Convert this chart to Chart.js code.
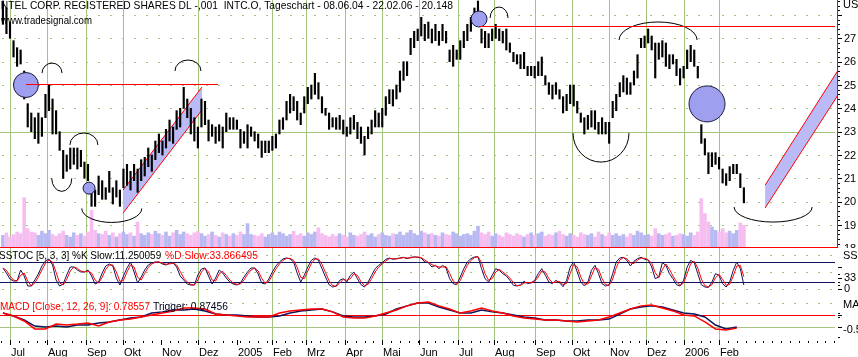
<!DOCTYPE html>
<html><head><meta charset="utf-8">
<script src="https://cdn.jsdelivr.net/npm/chart.js@4/dist/chart.umd.min.js"></script>
<style>
html,body{margin:0;padding:0;background:#fff;overflow:hidden}
#wrap{position:relative;width:858px;height:357px;background:#fff}
canvas{position:absolute;left:0}
</style></head><body>
<div id="wrap">
<canvas id="cMain" width="858" height="248" style="top:0;width:858px;height:248px"></canvas>
<canvas id="cStoch" width="858" height="46" style="top:248px;width:858px;height:46px"></canvas>
<canvas id="cMacd" width="858" height="63" style="top:294px;width:858px;height:63px"></canvas>
</div>
<script>
// ---------- categories (trading-day index, 0 = 1 Jul 2004) ----------
const monthLabels = ['Jul','Aug','Sep','Okt','Nov','Dez','2005','Feb','Mrz','Apr','Mai','Jun','Jul','Aug','Sep','Okt','Nov','Dez','2006','Feb'];
const monthStart  = [0,21,43,64,85,106,128,148,167,189,210,231,253,273,296,317,338,359,380,400];
const monthGridShown = [1,1,1,1,0,1,0,1,1,1,1,1,1,1,1,1,1,1,1,1];
const priceTickLabels = [19,20,21,22,23,24,25,26,27];

// ---------- series (one sample every 2 trading days, first at day -4) ----------
const priceHigh = [
28.6,28.3,27.7,26.9,26.6,26.5,25.6,24.2,23.8,23.6,
23.8,23.6,24.6,25.0,24.4,23.9,23.0,22.2,22.0,22.3,
22.3,22.3,22.2,21.7,21.6,20.6,20.5,21.1,20.9,20.6,
21.3,20.6,20.9,20.5,21.4,21.6,21.3,21.6,21.4,21.8,
21.9,22.3,22.0,22.6,22.9,22.6,23.1,23.5,23.2,23.9,
24.0,24.9,24.4,24.0,23.6,23.2,24.4,24.3,23.5,23.3,
23.2,23.3,23.2,23.8,23.6,23.6,23.5,23.1,23.0,23.3,
23.2,23.0,22.9,22.6,22.6,22.6,22.8,22.9,23.5,23.6,
24.3,24.6,24.5,24.3,23.8,24.5,24.9,25.0,25.5,25.1,
24.5,24.0,23.8,23.6,23.6,23.7,23.5,23.2,23.6,23.7,
23.4,23.2,22.8,23.2,23.5,23.9,23.8,24.0,24.5,24.8,
24.8,25.0,25.6,26.0,26.0,27.0,27.3,27.4,27.9,27.6,
27.7,27.4,27.6,27.3,27.6,27.3,26.5,26.7,26.5,26.9,
27.3,27.6,27.9,28.3,28.6,27.4,27.3,27.2,27.4,27.6,
27.4,27.3,27.4,26.8,26.4,26.3,26.3,26.4,25.8,25.8,
25.8,26.0,26.2,25.4,25.1,25.0,25.1,24.8,24.5,24.6,
25.0,25.0,24.3,23.8,23.6,23.7,23.9,23.9,23.4,23.6,
23.4,23.4,24.3,24.6,25.1,25.4,25.3,25.1,25.6,26.3,
27.0,27.1,27.4,27.1,26.8,26.8,26.9,26.8,26.3,26.3,
26.1,25.7,25.8,26.5,26.7,26.5,25.8,23.3,22.7,22.1,
22.1,22.1,21.9,21.4,21.2,21.5,21.6,21.6,21.2,20.6];
const priceLow = [
27.6,27.2,27.0,26.2,25.8,25.9,24.4,23.2,23.0,22.7,
22.5,22.8,23.6,23.9,22.9,22.9,22.2,21.0,21.3,21.4,
21.6,21.4,21.5,21.0,20.9,19.8,19.8,20.3,20.1,20.1,
20.4,19.9,20.2,19.8,20.6,20.7,20.5,20.9,20.4,20.9,
21.1,21.5,21.3,21.8,22.1,22.0,22.3,22.6,22.5,23.1,
23.2,24.0,23.6,22.9,22.6,22.3,23.2,23.3,22.6,22.8,
22.5,22.6,22.3,23.0,23.1,23.1,23.1,22.3,22.5,22.3,
22.8,22.6,22.3,21.9,22.1,22.1,22.2,22.3,22.9,23.1,
23.5,23.8,23.9,23.5,23.3,23.8,24.2,24.4,24.6,24.4,
23.8,23.7,23.1,23.2,23.1,23.1,22.9,22.8,22.9,23.1,
22.7,22.5,22.0,22.7,22.9,23.2,23.2,23.2,23.7,24.2,
24.1,24.4,24.7,25.2,25.4,26.3,26.6,26.9,27.1,26.9,
27.0,26.8,26.9,26.7,26.9,26.8,26.0,25.8,26.1,26.1,
26.6,26.9,27.3,27.6,27.8,26.8,26.6,26.6,26.9,27.0,
26.9,26.8,26.5,26.4,26.0,25.9,25.7,25.7,25.4,25.4,
25.3,25.4,25.4,25.0,24.6,24.4,24.6,24.4,23.8,23.9,
24.2,24.1,23.8,23.4,22.9,23.1,23.2,23.1,22.9,22.9,
22.9,22.5,23.6,23.9,24.5,24.7,24.6,24.6,25.0,25.3,
26.6,26.6,26.8,26.5,25.3,26.1,26.2,25.8,25.7,25.9,
25.4,25.0,25.3,25.7,26.0,25.8,25.3,22.5,22.0,21.2,
21.5,21.6,21.4,20.8,20.7,20.9,21.2,21.2,20.6,19.95];
const volume = [
70,85,60,75,90,80,295,110,90,85,70,95,80,100,75,65,80,
95,70,60,85,70,80,65,90,220,100,80,75,95,70,85,60,80,
90,75,85,65,150,80,70,
85,75,95,80,70,90,65,85,100,75,90,80,70,85,95,
80,65,75,90,70,60,85,75,65,80,70,90,75,140,75,
70,65,80,60,75,85,70,90,80,65,75,95,70,80,65,85,75,90,115,80,
70,60,75,65,80,70,60,85,70,65,75,90,70,80,60,75,85,70,65,80,
75,90,70,85,100,80,70,95,85,75,80,70,65,85,75,70,90,80,65,75,
80,70,95,125,85,75,90,65,80,70,60,85,75,65,80,70,60,75,85,70,
80,90,65,75,70,85,95,75,65,80,70,60,85,75,70,80,60,90,75,65,
85,70,80,65,75,60,80,70,95,85,70,75,65,110,80,70,75,85,65,70,80,75,65,85,70,90,
290,200,150,120,100,90,110,85,95,80,100,145,130];
const stochK = [
62,47,29,23,23,56,38,8,8,26,44,68,83,89,71,26,8,14,41,65,
65,56,50,50,56,38,14,20,47,68,74,68,32,11,38,62,80,50,17,35,
56,71,77,80,80,74,71,77,77,65,38,26,14,11,11,41,59,62,38,14,
32,56,47,32,20,14,11,17,35,50,62,62,44,17,14,29,50,68,80,89,
92,89,80,47,20,40,65,85,92,85,60,35,12,5,8,25,30,20,40,50,
30,12,5,20,40,60,70,78,88,92,88,90,92,94,90,94,95,94,92,80,
78,65,70,60,70,62,30,15,12,35,60,80,90,95,96,60,30,20,40,60,
55,45,38,25,10,8,12,22,15,18,25,45,60,40,20,15,25,18,6,25,
65,80,50,20,8,20,55,70,45,15,8,12,45,80,92,94,85,68,82,90,
94,88,86,65,30,35,78,70,45,30,12,8,25,65,85,78,45,12,5,4,
20,45,40,15,5,20,55,80,60,11];
const stochD = [
62,55,38,26,23,40,47,23,8,17,35,56,76,86,80,49,17,11,28,53,
65,61,53,50,53,47,26,17,34,58,71,71,50,22,25,50,71,65,34,26,
46,64,74,79,80,77,73,74,77,71,52,32,20,13,11,26,50,61,50,26,
23,44,52,40,26,17,13,14,26,43,56,62,53,31,16,22,40,59,74,85,
91,91,85,64,34,30,53,75,89,89,73,48,24,9,7,17,28,25,30,45,
40,21,9,13,30,50,65,74,83,90,90,89,91,93,92,92,95,95,93,86,
79,72,68,65,65,66,46,23,14,24,48,70,85,93,96,78,45,25,30,50,
58,50,42,32,18,9,10,17,19,17,22,35,53,50,30,18,20,22,12,16,
45,73,65,35,14,14,38,63,58,30,12,10,29,63,86,93,90,77,75,86,
92,91,87,76,48,33,57,74,58,38,21,10,17,45,75,82,62,29,9,5,
12,33,43,28,10,13,38,68,70,36];
// MACD sampled every 6 trading days from day -4
const macdLine = [
0.08,-0.04,-0.21,-0.46,-0.50,-0.46,-0.50,-0.42,-0.42,-0.33,
-0.29,-0.21,-0.13,-0.08,0.08,0.13,0.21,0.21,0.25,0.17,
0.04,0.00,0.00,-0.04,-0.08,-0.08,-0.04,0.08,0.17,0.21,
0.25,0.13,-0.04,-0.08,-0.08,-0.04,0.04,0.25,0.38,0.50,
0.50,0.33,0.21,0.08,0.08,0.21,0.13,0.08,0.00,-0.08,
-0.13,-0.21,-0.21,-0.25,-0.25,-0.21,-0.21,-0.17,0.04,0.25,
0.33,0.38,0.33,0.21,0.08,0.04,-0.08,-0.42,-0.58,-0.50];
const macdTrigger = [
0.08,-0.04,-0.25,-0.58,-0.58,-0.38,-0.42,-0.38,-0.33,-0.46,
-0.29,-0.21,-0.17,-0.08,0.00,0.08,0.17,0.29,0.29,0.25,
0.04,0.00,-0.04,-0.08,-0.08,-0.08,0.08,0.17,0.21,0.25,
0.25,0.13,-0.08,-0.13,-0.13,-0.04,0.08,0.21,0.38,0.50,
0.54,0.38,0.25,0.08,0.17,0.29,0.17,0.08,-0.04,-0.13,
-0.17,-0.21,-0.21,-0.25,-0.29,-0.25,-0.21,-0.08,0.08,0.25,
0.38,0.42,0.29,0.17,0.00,-0.04,-0.29,-0.58,-0.63,-0.54];

// ---------- drawn studies (in data units) ----------
const hLines = [{d0:9, d1:117.3, p:25.04},{d0:264.6, d1:465.4, p:27.53}];
const circles = [{d:9, p:25.0, r:12.5},{d:44.6, p:20.58, r:6},{d:264.6, p:27.83, r:8},{d:393.2, p:24.19, r:18}];
const arcs = [
 {d:23.7,p:25.51,rx:10,ry:10,up:true},{d:41.7,p:22.43,rx:14,ry:12,up:true},
 {d:29.2,p:21.0,rx:10,ry:13,up:false},{d:57.4,p:19.71,rx:30,ry:14,up:false},
 {d:100.4,p:25.6,rx:13,ry:11,up:true},{d:275.9,p:27.87,rx:9,ry:11,up:true},
 {d:333.4,p:22.94,rx:28,ry:29,up:false},{d:365.6,p:26.93,rx:39,ry:18,up:true},
 {d:430.5,p:19.77,rx:39,ry:15,up:false}];
const channels = [
 {d0:63.75,d1:108.3,u0:20.5,u1:24.91,l0:19.51,l1:23.93},
 {d0:426.0,d1:467.1,u0:20.71,u1:25.63,l0:19.73,l1:24.57}];

// ---------- helpers ----------
const FIRST_DAY=-4, DAY_STEP=2, MACD_STEP=6;
const dayOf = k => FIRST_DAY + DAY_STEP*k;
const X_MIN=-5.64, X_MAX=467.1;
const FONT='11px "Liberation Sans", Arial, sans-serif';
const C_GRID='#a3c57f', C_RED='#ff0000', C_NAVY='#12125e';
function vline(ctx,x,y0,y1){ctx.beginPath();ctx.moveTo(x,y0);ctx.lineTo(x,y1);ctx.stroke();}
function hline(ctx,y,x0,x1){ctx.beginPath();ctx.moveTo(x0,y);ctx.lineTo(x1,y);ctx.stroke();}
const xScale = {type:'linear',min:X_MIN,max:X_MAX,display:false,offset:false};
const baseOpts = {responsive:false,animation:false,devicePixelRatio:1,events:[],
  plugins:{legend:{display:false},tooltip:{enabled:false}}};

function gridPlugin(dotted, solids){
  return {id:'panelGrid',beforeDatasetsDraw(chart){
    const {ctx,chartArea:a,scales:{x,y}}=chart;
    ctx.save();ctx.lineWidth=1;ctx.strokeStyle=C_GRID;ctx.setLineDash([2,10]);
    dotted.forEach(v=>{const py=Math.round(y.getPixelForValue(v))+0.5;hline(ctx,py,2,a.right-4);});
    ctx.setLineDash([]);
    monthStart.forEach((d,i)=>{if(!monthGridShown[i])return;const px=Math.round(x.getPixelForValue(d))+0.5;vline(ctx,px,a.top,a.bottom);});
    solids.forEach(s=>{ctx.strokeStyle=s.color;const py=Math.round(y.getPixelForValue(s.v))+0.5;hline(ctx,py,0,a.right-3);});
    ctx.restore();
  }};
}

// ---------- main price panel ----------
const N = Math.min(priceHigh.length, priceLow.length);
const mids = priceHigh.map((h,i)=>(h+priceLow[i])/2);
const volColors = volume.map((v,i)=> (i>0 && mids[i]<mids[i-1]) ? '#f6bdf0' : '#b9b9f2');

const studiesBack = {id:'studiesBack',beforeDatasetsDraw(chart){
  const {ctx,scales:{x,y}}=chart;
  ctx.save();
  channels.forEach(c=>{
    const X0=x.getPixelForValue(c.d0),X1=x.getPixelForValue(c.d1);
    ctx.beginPath();ctx.moveTo(X0,y.getPixelForValue(c.u0));ctx.lineTo(X1,y.getPixelForValue(c.u1));
    ctx.lineTo(X1,y.getPixelForValue(c.l1));ctx.lineTo(X0,y.getPixelForValue(c.l0));ctx.closePath();
    ctx.fillStyle='#babaf6';ctx.fill();
    ctx.strokeStyle=C_RED;ctx.lineWidth=1;
    ctx.beginPath();ctx.moveTo(X0,y.getPixelForValue(c.u0));ctx.lineTo(X1,y.getPixelForValue(c.u1));ctx.stroke();
    ctx.beginPath();ctx.moveTo(X0,y.getPixelForValue(c.l0));ctx.lineTo(X1,y.getPixelForValue(c.l1));ctx.stroke();
  });
  ctx.restore();
}};
const studiesFront = {id:'studiesFront',afterDatasetsDraw(chart){
  const {ctx,scales:{x,y}}=chart;
  ctx.save();
  circles.forEach(c=>{ctx.beginPath();ctx.arc(x.getPixelForValue(c.d),y.getPixelForValue(c.p),c.r,0,Math.PI*2);
    ctx.fillStyle='#9f9ff0';ctx.fill();ctx.strokeStyle='#1a1a3a';ctx.lineWidth=1;ctx.stroke();});
  ctx.strokeStyle='#000';ctx.lineWidth=1;
  arcs.forEach(a=>{ctx.beginPath();ctx.ellipse(x.getPixelForValue(a.d),y.getPixelForValue(a.p),a.rx,a.ry,0,a.up?Math.PI:0,a.up?Math.PI*2:Math.PI);ctx.stroke();});
  ctx.restore();
}};
const redLevels = {id:'redLevels',afterDraw(chart){
  const {ctx,scales:{x,y}}=chart;
  ctx.save();
  ctx.strokeStyle='rgb(255,0,0)';ctx.lineWidth=1;ctx.setLineDash([]);
  hLines.forEach(l=>{const py=Math.round(y.getPixelForValue(l.p))+0.5;
    ctx.beginPath();ctx.moveTo(Math.round(x.getPixelForValue(l.d0)),py);ctx.lineTo(Math.round(x.getPixelForValue(l.d1)),py);ctx.stroke();});
  ctx.restore();
}};
const mainFrame = {id:'mainFrame',afterDraw(chart){
  const {ctx,chartArea:a,scales:{y}}=chart;
  ctx.save();ctx.lineWidth=1;
  ctx.strokeStyle=C_RED;vline(ctx,a.right-0.5,0,a.bottom+1);hline(ctx,a.bottom+0.5,0,a.right);
  ctx.strokeStyle='#000';
  for(let i=1;i<=53;i++){const v=18+i*0.2;if(v>28.64)break;const py=Math.round(y.getPixelForValue(v))+0.5;
    const major=(i%5===0);hline(ctx,py,a.right,a.right+(major?4:2));}
  ctx.fillStyle='#000';ctx.font=FONT;ctx.textBaseline='middle';ctx.textAlign='left';
  priceTickLabels.forEach(v=>ctx.fillText(String(v),a.right+6,y.getPixelForValue(v)+0.5));
  ctx.fillText('18',a.right+6,y.getPixelForValue(18)+0.5);
  ctx.textBaseline='alphabetic';
  ctx.fillText('USD',a.right+5,8);
  ctx.fillText('INTEL CORP. REGISTERED SHARES DL -,001  INTC.O, Tageschart - 08.06.04 - 22.02.06 - 20.148',-2,9,455);
  ctx.fillText('www.tradesignal.com',1,24,91);
  ctx.restore();
}};

new Chart(document.getElementById('cMain'),{
  type:'bar',
  data:{datasets:[
    {type:'bar',label:'Kurs',data:priceHigh.slice(0,N).map((h,k)=>({x:dayOf(k),y:[priceLow[k],h]})),
     backgroundColor:'#000',barThickness:1.5,grouped:false,yAxisID:'y',order:1},
    {type:'bar',label:'Volumen',data:volume.map((v,k)=>({x:dayOf(k),y:v})),
     backgroundColor:volColors,barThickness:3,grouped:false,yAxisID:'yv',order:2}
  ]},
  options:{...baseOpts,layout:{padding:{left:0,right:20,top:0,bottom:1}},
    scales:{x:xScale,y:{type:'linear',min:18.058,max:28.643,display:false},yv:{type:'linear',min:0,max:1480,display:false}}},
  plugins:[gridPlugin([19,20,21,22,24,25,26,27,28],[{v:23,color:C_GRID}]),studiesBack,studiesFront,mainFrame,redLevels]
});

// ---------- slow stochastic panel ----------
const stochFrame = {id:'stochFrame',afterDraw(chart){
  const {ctx,chartArea:a,scales:{y}}=chart;
  ctx.save();ctx.lineWidth=1;ctx.strokeStyle='#000';
  [0,33,66].forEach(v=>{const py=Math.round(y.getPixelForValue(v))+0.5;hline(ctx,py,a.right,a.right+4);});
  [10,20,45].forEach(v=>{const py=Math.round(y.getPixelForValue(v))+0.5;hline(ctx,py,a.right,a.right+2);});
  ctx.fillStyle='#000';ctx.font=FONT;ctx.textBaseline='middle';
  ctx.fillText('33',a.right+6,y.getPixelForValue(33)+0.5);
  ctx.fillText('0',a.right+6,y.getPixelForValue(0)+0.5);
  ctx.fillText('SSTOC',a.right+5,y.getPixelForValue(100)+1);
  ctx.textBaseline='alphabetic';
  const t1='SSTOC [5, 3, 3] %K Slow:11.250059 ';
  ctx.fillText(t1,-1,11,165);
  ctx.fillStyle=C_RED;ctx.fillText('%D Slow:33.866495',165,11,93);
  ctx.restore();
}};
new Chart(document.getElementById('cStoch'),{
  type:'line',
  data:{datasets:[
    {label:'%D',data:stochD.map((v,k)=>({x:dayOf(k),y:v})),borderColor:C_RED,borderWidth:1,pointRadius:0,tension:0},
    {label:'%K',data:stochK.map((v,k)=>({x:dayOf(k),y:v})),borderColor:C_NAVY,borderWidth:1,pointRadius:0,tension:0}
  ]},
  options:{...baseOpts,layout:{padding:{left:0,right:20,top:0,bottom:0}},
    scales:{x:xScale,y:{type:'linear',min:-15.9,max:121.9,display:false}}},
  plugins:[gridPlugin([0,50,100],[{v:20,color:C_NAVY},{v:80,color:C_NAVY}]),stochFrame]
});

// ---------- MACD panel + time axis ----------
const macdFrame = {id:'macdFrame',afterDraw(chart){
  const {ctx,chartArea:a,scales:{x,y}}=chart;
  ctx.save();ctx.lineWidth=1;ctx.strokeStyle='#000';
  [0,-0.5].forEach(v=>{const py=Math.round(y.getPixelForValue(v))+0.5;hline(ctx,py,a.right,a.right+4);});
  [0.08,-0.08,-0.9].forEach(v=>{const py=Math.round(y.getPixelForValue(v))+0.5;hline(ctx,py,a.right,a.right+2);});
  ctx.fillStyle='#000';ctx.font=FONT;ctx.textBaseline='middle';
  ctx.fillText('-0.5',a.right+5,y.getPixelForValue(-0.5)+3);
  ctx.fillText('MACD',a.right+5,y.getPixelForValue(0.4));
  ctx.textBaseline='alphabetic';
  ctx.fillStyle=C_RED;ctx.fillText('MACD [Close, 12, 26, 9]: 0.78557',0,16,150);
  ctx.fillStyle='#000020';ctx.fillText('Trigger: 0.87456',153,16,75);
  // time axis
  ctx.strokeStyle='#000';ctx.fillStyle='#000';
  const ty=a.bottom;
  for(let d=-5;d<X_MAX;d+=5){const px=Math.round(x.getPixelForValue(d))+0.5;vline(ctx,px,ty+1,ty+3);}
  monthStart.forEach((d,i)=>{const px=Math.round(x.getPixelForValue(d))+0.5;vline(ctx,px,ty,ty+5);
    ctx.fillText(monthLabels[i],px+0.5,ty+16);});
  ctx.restore();
}};
new Chart(document.getElementById('cMacd'),{
  type:'line',
  data:{datasets:[
    {label:'Trigger',data:macdTrigger.map((v,j)=>({x:FIRST_DAY+MACD_STEP*j,y:v})),borderColor:C_RED,borderWidth:1.5,pointRadius:0,tension:0},
    {label:'MACD',data:macdLine.map((v,j)=>({x:FIRST_DAY+MACD_STEP*j,y:v})),borderColor:C_NAVY,borderWidth:1.5,pointRadius:0,tension:0}
  ]},
  options:{...baseOpts,layout:{padding:{left:0,right:20,top:0,bottom:17}},
    scales:{x:xScale,y:{type:'linear',min:-1.042,max:0.875,display:false}}},
  plugins:[gridPlugin([0.5],[{v:0,color:C_RED},{v:-0.5,color:C_GRID}]),macdFrame]
});
</script>
</body></html>
